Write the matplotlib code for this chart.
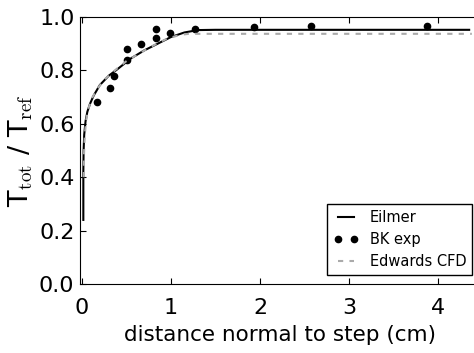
import matplotlib
matplotlib.use("Agg")
import matplotlib.pyplot as plt

# Eilmer simulation
eil_x = [0.015, 0.015, 0.018, 0.025, 0.04, 0.06, 0.09, 0.13, 0.2, 0.3, 0.4, 0.55, 0.7, 0.85, 1.0, 1.15, 1.3, 1.5, 4.35]
eil_y = [0.24, 0.42, 0.50, 0.56, 0.61, 0.645, 0.675, 0.705, 0.745, 0.78, 0.805, 0.845, 0.875, 0.90, 0.925, 0.942, 0.951, 0.952, 0.952]

# BK experiment
bk_x = [0.17, 0.32, 0.36, 0.51, 0.51, 0.66, 0.83, 0.83, 0.99, 1.27, 1.93, 2.57, 3.88]
bk_y = [0.68, 0.735, 0.78, 0.84, 0.88, 0.898, 0.92, 0.954, 0.941, 0.954, 0.964, 0.966, 0.966]

# Edwards CFD
edw_x = [0.02, 0.022, 0.03, 0.045, 0.07, 0.11, 0.17, 0.25, 0.35, 0.5, 0.65, 0.8, 0.95, 1.1, 1.2, 4.38]
edw_y = [0.40, 0.48, 0.55, 0.61, 0.655, 0.695, 0.73, 0.765, 0.795, 0.835, 0.865, 0.893, 0.918, 0.933, 0.937, 0.937]

plt.rcParams['mathtext.fontset'] = 'cm'

fig = plt.figure(figsize=(4.74, 3.53), dpi=100)
ax = fig.add_axes([80/474, 69/353, 401/474, 267/353])

ax.plot(eil_x, eil_y, color='black', lw=1.5, label='Eilmer')
ax.plot(bk_x, bk_y, 'o', color='black', ms=4.5, label='BK exp')
ax.plot(edw_x, edw_y, color='#aaaaaa', lw=1.5, dashes=(2.5, 3), label='Edwards CFD')

ax.set_xlim(-0.0225, 4.483)
ax.set_ylim(0.0, 1.0)
ax.set_xticks([0, 1, 2, 3, 4])
ax.set_yticks([0.0, 0.2, 0.4, 0.6, 0.8, 1.0])
ax.set_yticklabels(['0.0', '0.2', '0.4', '0.6', '0.8', '1.0'])
ax.tick_params(direction='in', top=True, right=True, length=4, labelsize=16)
ax.tick_params(axis='x', pad=10)
ax.tick_params(axis='y', pad=4)
ax.set_xlabel('distance normal to step (cm)', fontsize=15.5, labelpad=5)
ax.set_ylabel(r'T$_{\mathrm{tot}}$ / T$_{\mathrm{ref}}$', fontsize=19.5, labelpad=3)

leg = ax.legend(loc='lower right', numpoints=2, fontsize=10.5, fancybox=False,
                edgecolor='black', framealpha=1, borderaxespad=0.6, handlelength=1.7)
leg.get_frame().set_linewidth(1.0)

fig.savefig('out.png', dpi=100)
